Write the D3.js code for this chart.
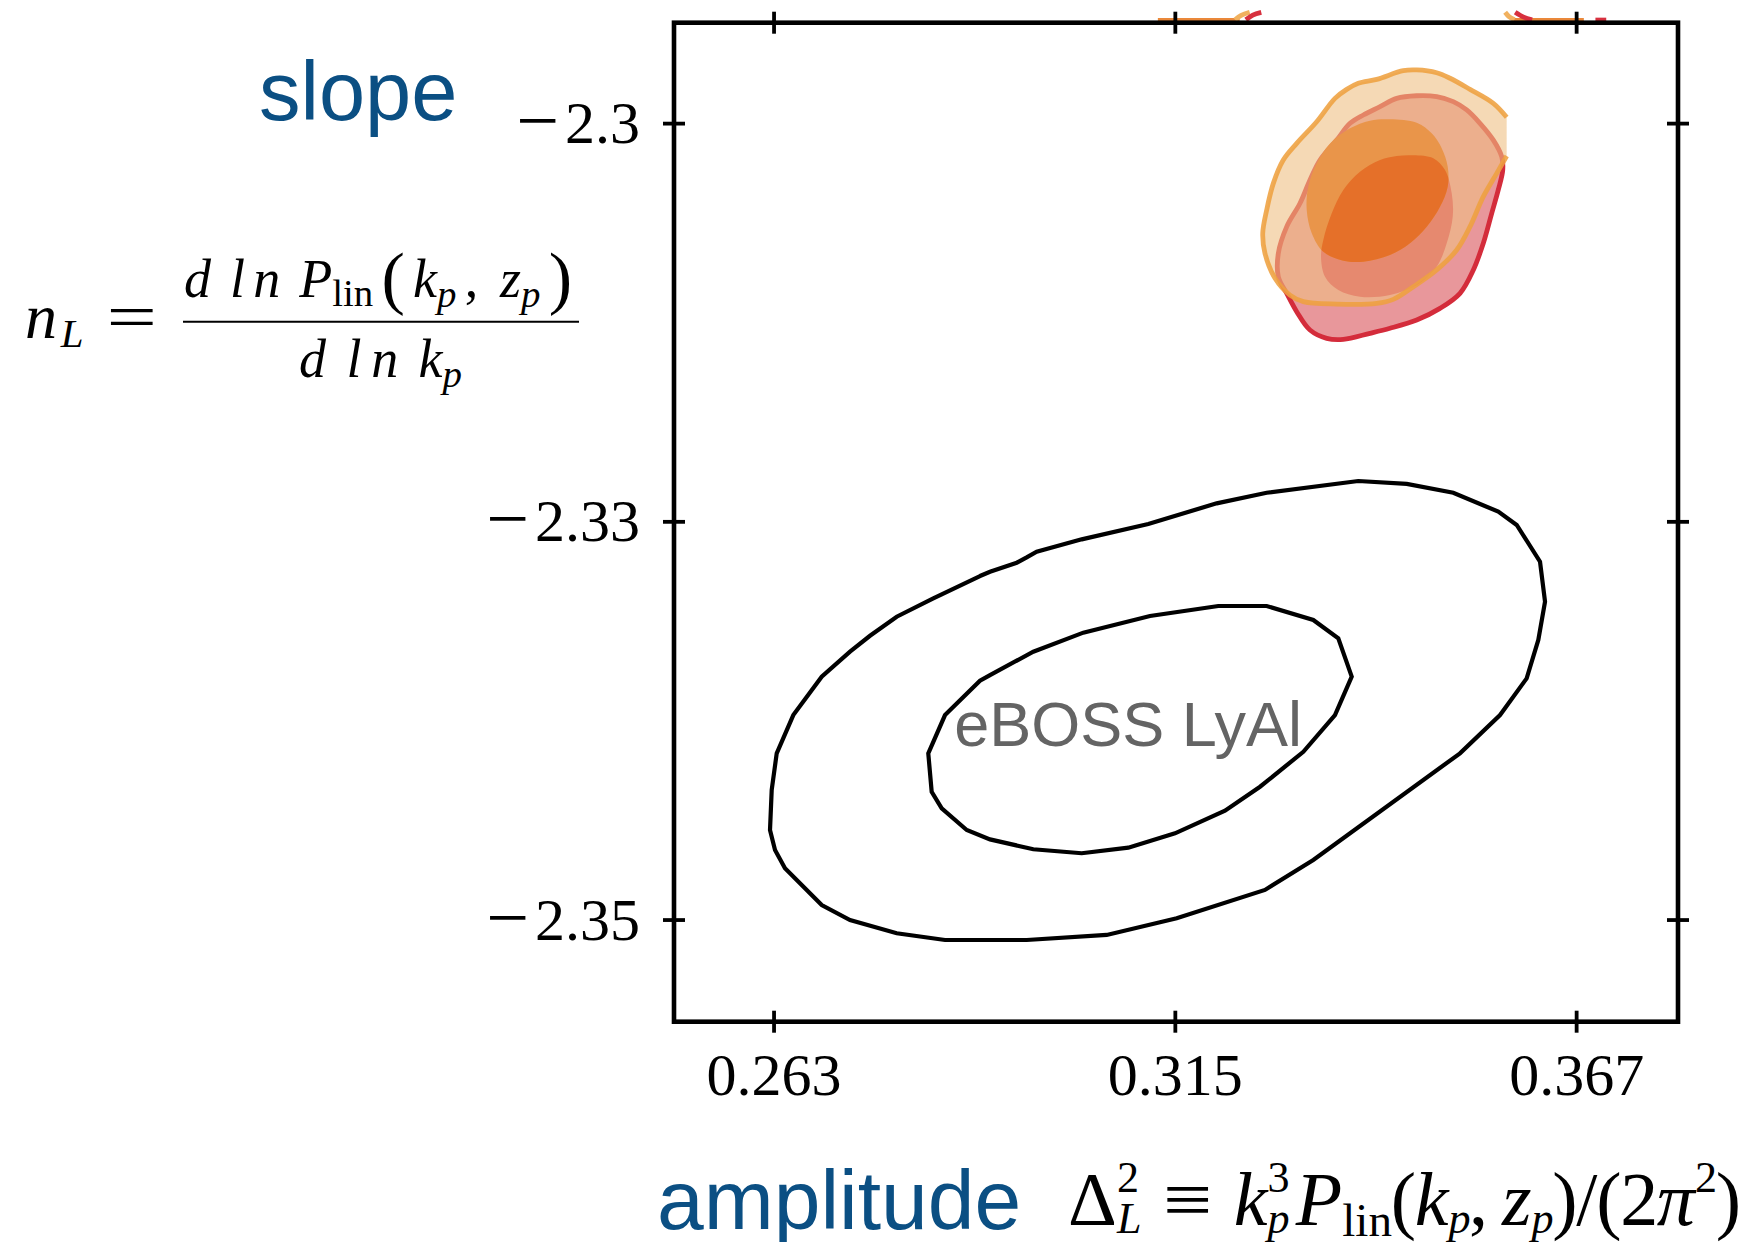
<!DOCTYPE html>
<html>
<head>
<meta charset="utf-8">
<script src="https://cdn.jsdelivr.net/npm/d3@7"></script>
<style>
  html, body { margin: 0; padding: 0; background: #fff; }
  svg { display: block; }
</style>
</head>
<body>
<svg id="chart" width="1752" height="1242"></svg>
<script>
// ---- axis extents and ticks ----
const xDomain = [0.2501, 0.3802];
const yDomain = [-2.3559, -2.2982];
const xTicks = [0.263, 0.315, 0.367];
const xTickLabels = ["0.263", "0.315", "0.367"];
const yTicks = [-2.304, -2.327, -2.350];
const yTickLabels = ["−2.3", "−2.33", "−2.35"];

// ---- eBOSS Lyα 68% / 95% contours (amplitude, slope) ----
const ebossInner = [
  [0.28522,-2.33819],[0.28975,-2.33621],[0.29105,-2.33588],[0.29666,-2.33453],[0.30314,-2.33343],
  [0.31178,-2.33247],[0.32063,-2.33189],[0.32690,-2.33189],[0.33294,-2.33270],[0.33618,-2.33376],
  [0.33792,-2.33597],[0.33575,-2.33819],[0.33165,-2.34031],[0.32604,-2.34233],[0.32150,-2.34371],
  [0.31502,-2.34502],[0.30897,-2.34585],[0.30293,-2.34617],[0.29666,-2.34594],[0.29105,-2.34537],
  [0.28803,-2.34483],[0.28479,-2.34358],[0.28349,-2.34262],[0.28305,-2.34040]
];
const ebossOuter = [
  [0.28975,-2.33016],[0.29105,-2.32991],[0.29451,-2.32939],[0.29580,-2.32908],[0.29710,-2.32875],
  [0.30293,-2.32804],[0.31156,-2.32715],[0.32042,-2.32596],[0.32690,-2.32535],[0.33877,-2.32467],
  [0.34505,-2.32484],[0.35108,-2.32535],[0.35691,-2.32644],[0.35930,-2.32721],[0.36232,-2.32933],
  [0.36297,-2.33164],[0.36210,-2.33385],[0.36059,-2.33607],[0.35714,-2.33819],[0.35195,-2.34040],
  [0.33294,-2.34656],[0.32668,-2.34829],[0.31524,-2.34993],[0.30617,-2.35089],[0.29580,-2.35118],
  [0.28522,-2.35118],[0.27896,-2.35079],[0.27291,-2.35003],[0.26924,-2.34916],[0.26448,-2.34704],
  [0.26319,-2.34598],[0.26254,-2.34483],[0.26276,-2.34252],[0.26341,-2.34040],[0.26556,-2.33819],
  [0.26924,-2.33597],[0.27291,-2.33453],[0.27550,-2.33361],[0.27896,-2.33251],[0.28370,-2.33145]
];

// ---- red set: outer and inner filled contours ----
const redOuter = [
  [0.34893,-2.30247],[0.34634,-2.30242],[0.34375,-2.30257],[0.34159,-2.30305],[0.33942,-2.30353],
  [0.33770,-2.30401],[0.33597,-2.30498],[0.33381,-2.30613],[0.33251,-2.30729],[0.33122,-2.30863],
  [0.32950,-2.30998],[0.32841,-2.31152],[0.32841,-2.31287],[0.32950,-2.31383],[0.33079,-2.31489],
  [0.33251,-2.31595],[0.33468,-2.31643],[0.33683,-2.31649],[0.34029,-2.31614],[0.34288,-2.31585],
  [0.34634,-2.31537],[0.34936,-2.31470],[0.35195,-2.31383],[0.35368,-2.31248],[0.35497,-2.31094],
  [0.35606,-2.30921],[0.35691,-2.30786],[0.35749,-2.30671],[0.35736,-2.30594],[0.35627,-2.30498],
  [0.35454,-2.30401],[0.35282,-2.30324],[0.35108,-2.30276]
];
const redInner = [
  [0.34590,-2.30586],[0.34849,-2.30603],[0.35001,-2.30671],[0.35088,-2.30805],[0.35101,-2.30941],
  [0.35023,-2.31094],[0.34893,-2.31229],[0.34634,-2.31335],[0.34288,-2.31393],[0.33899,-2.31403],
  [0.33618,-2.31364],[0.33446,-2.31287],[0.33394,-2.31172],[0.33424,-2.31075],[0.33533,-2.30921],
  [0.33683,-2.30786],[0.33899,-2.30681],[0.34159,-2.30613],[0.34375,-2.30590]
];

// ---- orange set: outer contour is cut at the prior edge on the right ----
const orangeOuter = [
  [0.35800,-2.30366],[0.35627,-2.30286],[0.35325,-2.30205],[0.35066,-2.30141],[0.34893,-2.30109],
  [0.34634,-2.30093],[0.34460,-2.30097],[0.34116,-2.30147],[0.33877,-2.30170],[0.33727,-2.30205],
  [0.33575,-2.30257],[0.33338,-2.30392],[0.33079,-2.30517],[0.32905,-2.30613],[0.32776,-2.30748],
  [0.32690,-2.30902],[0.32639,-2.31036],[0.32668,-2.31152],[0.32798,-2.31296],[0.32992,-2.31393],
  [0.33165,-2.31431],[0.33597,-2.31445],[0.34116,-2.31441],[0.34331,-2.31418],[0.34590,-2.31345],
  [0.34893,-2.31248],[0.35152,-2.31133],[0.35325,-2.30998],[0.35497,-2.30825],[0.35671,-2.30690],
  [0.35800,-2.30590]
];
const orangeInner = [
  [0.34288,-2.30378],[0.34634,-2.30398],[0.34828,-2.30459],[0.34958,-2.30545],[0.35036,-2.30652],
  [0.35036,-2.30767],[0.34936,-2.30883],[0.34764,-2.30998],[0.34547,-2.31094],[0.34288,-2.31162],
  [0.33942,-2.31200],[0.33683,-2.31195],[0.33424,-2.31143],[0.33274,-2.31036],[0.33209,-2.30902],
  [0.33229,-2.30767],[0.33338,-2.30632],[0.33511,-2.30517],[0.33770,-2.30430],[0.34029,-2.30386]
];

// ---- pieces of the neighbouring panel's contours poking over the top edge ----
const edgeOrangeBands = [
  [[0.3128,-2.29801],[0.3234,-2.29801]],
  [[0.3588,-2.29801],[0.3680,-2.29801]]
];
const edgeRedBands = [
  [[0.3695,-2.29801],[0.3709,-2.29801]]
];
const edgeOrangeArcs = [
  [[0.3228,-2.29803],[0.3236,-2.29778],[0.3247,-2.29760]],
  [[0.3578,-2.29760],[0.3583,-2.29785],[0.3590,-2.29803]]
];
const edgeRedArcs = [
  [[0.3242,-2.29803],[0.3251,-2.29776],[0.3262,-2.29760]],
  [[0.3591,-2.29760],[0.3602,-2.29788],[0.3613,-2.29803]]
];

// ---- layout ----
const plot = { left: 674, right: 1678, top: 22.7, bottom: 1021.7 };
const SERIF = "'Liberation Serif', 'Times New Roman', serif";
const SANS = "'Liberation Sans', Arial, Helvetica, sans-serif";
const BLUE = "#0b4f83";

const svg = d3.select("#chart");
const x = d3.scaleLinear().domain(xDomain).range([plot.left, plot.right]);
const y = d3.scaleLinear().domain(yDomain).range([plot.bottom, plot.top]);

const closedPoly = d3.line().x(d => x(d[0])).y(d => y(d[1])).curve(d3.curveLinearClosed);
const smoothClosed = d3.line().x(d => x(d[0])).y(d => y(d[1])).curve(d3.curveCatmullRomClosed.alpha(0.5));
const smoothOpen = d3.line().x(d => x(d[0])).y(d => y(d[1])).curve(d3.curveCatmullRom.alpha(0.5));
const straight = d3.line().x(d => x(d[0])).y(d => y(d[1]));

// ---- eBOSS contours ----
const gE = svg.append("g").attr("fill", "none").attr("stroke", "#000")
  .attr("stroke-width", 4.2).attr("stroke-linejoin", "miter");
gE.append("path").attr("d", closedPoly(ebossOuter));
gE.append("path").attr("d", closedPoly(ebossInner));

svg.append("text")
  .attr("x", x(0.28640)).attr("y", y(-2.33998))
  .attr("font-family", SANS).attr("font-size", 63).attr("fill", "#646464")
  .text("eBOSS LyAl");

// ---- neighbouring panel edge pieces (above the frame) ----
const gEdge = svg.append("g").attr("fill", "none").attr("stroke-linecap", "butt");
edgeOrangeBands.forEach(p => gEdge.append("path").attr("d", straight(p)).attr("stroke", "#ea883a").attr("stroke-width", 3));
edgeRedBands.forEach(p => gEdge.append("path").attr("d", straight(p)).attr("stroke", "#d7303e").attr("stroke-width", 3.5));
edgeOrangeArcs.forEach(p => gEdge.append("path").attr("d", smoothOpen(p)).attr("stroke", "#f1b15f").attr("stroke-width", 4.8));
edgeRedArcs.forEach(p => gEdge.append("path").attr("d", smoothOpen(p)).attr("stroke", "#d7303e").attr("stroke-width", 4.8));

// ---- red + orange filled contours ----
const defs = svg.append("defs");
defs.append("clipPath").attr("id", "orangeInnerClip")
  .append("path").attr("d", smoothClosed(orangeInner));

const gC = svg.append("g");
gC.append("path").attr("d", smoothClosed(redOuter)).attr("fill", "#e8979b");
gC.append("path").attr("d", smoothClosed(redInner)).attr("fill", "#da3950");
gC.append("path").attr("d", smoothClosed(redOuter)).attr("fill", "none")
  .attr("stroke", "#d42c3b").attr("stroke-width", 4.8);
gC.append("path").attr("d", smoothOpen(orangeOuter) + "Z")
  .attr("fill", "rgb(238,192,132)").attr("fill-opacity", 0.6);
gC.append("path").attr("d", smoothClosed(orangeInner)).attr("fill", "#e9954a");
gC.append("path").attr("d", smoothClosed(redInner)).attr("fill", "#e57029")
  .attr("clip-path", "url(#orangeInnerClip)");
gC.append("path").attr("d", smoothOpen(orangeOuter)).attr("fill", "none")
  .attr("stroke", "#eea040").attr("stroke-opacity", 0.88).attr("stroke-width", 4.8);

// ---- axes ----
function styleTicks(g, vertical) {
  g.select(".domain").remove();
  g.selectAll(".tick line")
    .attr("stroke", "#000").attr("stroke-width", 3.8)
    .attr(vertical ? "x1" : "y1", -11).attr(vertical ? "x2" : "y2", 11);
}

const axBottom = svg.append("g").attr("transform", `translate(0,${plot.bottom})`)
  .call(d3.axisBottom(x).tickValues(xTicks).tickFormat((d, i) => xTickLabels[i]).tickSizeOuter(0));
styleTicks(axBottom, false);
axBottom.selectAll(".tick text")
  .attr("y", 73.5).attr("dy", null)
  .attr("font-family", SERIF).attr("font-size", 60).attr("fill", "#000");

const axTop = svg.append("g").attr("transform", `translate(0,${plot.top})`)
  .call(d3.axisTop(x).tickValues(xTicks).tickFormat("").tickSizeOuter(0));
styleTicks(axTop, false);

const axLeft = svg.append("g").attr("transform", `translate(${plot.left},0)`)
  .call(d3.axisLeft(y).tickValues(yTicks).tickFormat((d, i) => yTickLabels[i]).tickSizeOuter(0));
styleTicks(axLeft, true);
axLeft.selectAll(".tick text")
  .attr("x", -34).attr("dy", null).attr("y", 19.5)
  .attr("text-anchor", "end").attr("font-family", SERIF).attr("font-size", 60).attr("fill", "#000")
  .each(function (d, i) {
    const label = yTickLabels[i];
    const t = d3.select(this).text(null);
    t.append("tspan").attr("font-size", 76).attr("dy", 3).text(label.slice(0, 1));
    t.append("tspan").attr("dx", 6).attr("dy", -3).text(label.slice(1));
  });

const axRight = svg.append("g").attr("transform", `translate(${plot.right},0)`)
  .call(d3.axisRight(y).tickValues(yTicks).tickFormat("").tickSizeOuter(0));
styleTicks(axRight, true);

svg.append("rect")
  .attr("x", plot.left).attr("y", plot.top)
  .attr("width", plot.right - plot.left).attr("height", plot.bottom - plot.top)
  .attr("fill", "none").attr("stroke", "#000").attr("stroke-width", 4.6);

// ---- axis titles ----
svg.append("text").attr("x", 259).attr("y", 120)
  .attr("font-family", SANS).attr("font-size", 83).attr("fill", BLUE).text("slope");
svg.append("text").attr("x", 657).attr("y", 1229)
  .attr("font-family", SANS).attr("font-size", 84).attr("fill", BLUE).text("amplitude");

// ---- tiny math typesetter: tokens laid out left to right, spread to a target width ----
// token: t text, f 'it' | 'rm', s size factor, dy baseline shift (em), g gap before (em),
// sx horizontal stretch, a attached to the previous token (no extra spread before it);
// {stack:[sup, sub]} puts two tokens at the same x.
function mathText(parent, tokens, base, x0, baseline, targetW) {
  const g = parent.append("g").attr("fill", "#000");
  const items = [];
  let cx = 0;
  tokens.forEach(tok => {
    const parts = tok.stack || [tok];
    cx += (tok.g || 0) * base;
    let adv = 0;
    const nodes = parts.map(p => {
      const el = g.append("text")
        .attr("font-family", SERIF)
        .attr("font-style", p.f === "it" ? "italic" : "normal")
        .attr("font-size", (p.s || 1) * base)
        .text(p.t);
      const sx = p.sx || 1;
      adv = Math.max(adv, el.node().getComputedTextLength() * sx);
      return { el, sx, yy: baseline + (p.dy || 0) * base };
    });
    items.push({ nodes, x: cx, a: !!tok.a });
    cx += adv;
  });
  const spreadCount = items.filter((it, i) => i > 0 && !it.a).length;
  const step = targetW != null && spreadCount ? (targetW - cx) / spreadCount : 0;
  let off = 0;
  items.forEach((it, i) => {
    if (i > 0 && !it.a) off += step;
    it.nodes.forEach(nd => {
      nd.el.attr("transform", `translate(${x0 + it.x + off},${nd.yy}) scale(${nd.sx},1)`);
    });
  });
  return g;
}

const SUB = 0.58;

// slope definition: n_L = d ln P_lin(k_p, z_p) / d ln k_p
mathText(svg, [
  { t: "n", f: "it" },
  { t: "L", f: "it", s: 0.64, dy: 0.14 },
  { t: "=", f: "rm", g: 0.3, sx: 1.4 }
], 64, 25, 338, 132);

svg.append("line").attr("x1", 183).attr("x2", 579).attr("y1", 321.7).attr("y2", 321.7)
  .attr("stroke", "#000").attr("stroke-width", 2);

mathText(svg, [
  { t: "d", f: "it" },
  { t: "l", f: "it", g: 0.2 },
  { t: "n", f: "it" },
  { t: "P", f: "it", g: 0.2 },
  { t: "lin", f: "rm", s: 0.72, dy: 0.16, a: true },
  { t: "(", f: "rm", s: 1.3, dy: 0.07 },
  { t: "k", f: "it" },
  { t: "p", f: "it", s: 0.72, dy: 0.18, a: true },
  { t: ",", f: "rm" },
  { t: "z", f: "it", g: 0.25 },
  { t: "p", f: "it", s: 0.72, dy: 0.18, a: true },
  { t: ")", f: "rm", s: 1.3, dy: 0.07 }
], 54, 184, 297, 388);

mathText(svg, [
  { t: "d", f: "it" },
  { t: "l", f: "it", g: 0.2 },
  { t: "n", f: "it" },
  { t: "k", f: "it", g: 0.2 },
  { t: "p", f: "it", s: 0.72, dy: 0.18, a: true }
], 54, 299, 377, 163);

// amplitude definition: Δ²_L ≡ k³_p P_lin(k_p, z_p)/(2π²)
mathText(svg, [
  { t: "Δ", f: "rm" },
  { stack: [{ t: "2", f: "rm", s: SUB, dy: -0.44 }, { t: "L", f: "it", s: SUB, dy: 0.1 }], a: true },
  { t: "≡", f: "rm", g: 0.3, sx: 1.15 },
  { t: "k", f: "it", g: 0.3 },
  { stack: [{ t: "3", f: "rm", s: SUB, dy: -0.44 }, { t: "p", f: "it", s: SUB, dy: 0.1 }], a: true },
  { t: "P", f: "it", g: 0.1 },
  { t: "lin", f: "rm", s: 0.62, dy: 0.15, a: true },
  { t: "(", f: "rm" },
  { t: "k", f: "it" },
  { t: "p", f: "it", s: SUB, dy: 0.1, a: true },
  { t: ",", f: "rm" },
  { t: "z", f: "it", g: 0.2 },
  { t: "p", f: "it", s: SUB, dy: 0.1, a: true },
  { t: ")", f: "rm" },
  { t: "/", f: "rm" },
  { t: "(", f: "rm" },
  { t: "2", f: "rm" },
  { t: "π", f: "it" },
  { t: "2", f: "rm", s: SUB, dy: -0.44, a: true },
  { t: ")", f: "rm" }
], 76, 1068, 1225, 673);
</script>
</body>
</html>
